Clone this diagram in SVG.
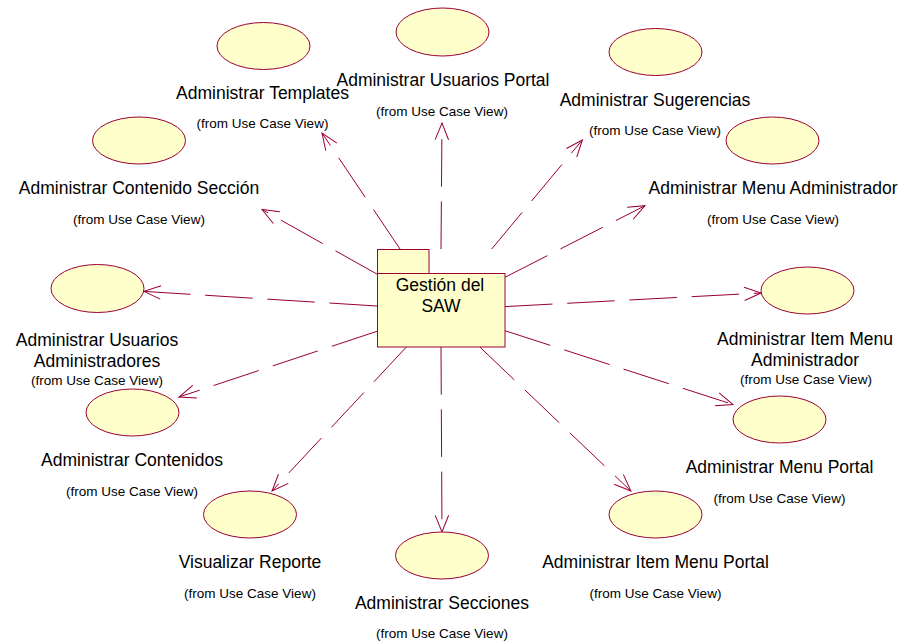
<svg xmlns="http://www.w3.org/2000/svg" width="899" height="643" viewBox="0 0 899 643">
  <style>
    .uc { fill: #FFFFCC; stroke: #990033; stroke-width: 1; }
    .pkg { fill: #FFFFCC; stroke: #990033; stroke-width: 1; }
    .name { font-family: "Liberation Sans", Arial, sans-serif; font-size: 17.5px; fill: #000; text-anchor: middle; }
    .from { font-family: "Liberation Sans", Arial, sans-serif; font-size: 13.5px; fill: #000; text-anchor: middle; }
    .dep { fill: none; stroke: #990033; stroke-width: 1; stroke-dasharray: 47.6 14.7; marker-end: url(#open); }
  </style>
  <defs>
    <marker id="open" markerUnits="userSpaceOnUse" markerWidth="20" markerHeight="16" viewBox="-18 -8 20 16" refX="0" refY="0" orient="auto" overflow="visible">
      <path d="M-16.7,-6.7 L0,0 L-16.7,6.7" fill="none" stroke="#990033" stroke-width="1"/>
    </marker>
  </defs>

  <rect width="899" height="643" fill="#FFFFFF"/>

  <!-- dependencies from the package to each use case -->
  <g id="connectors">
    <path class="dep" d="M400,249 L322,133"/>
    <path class="dep" d="M441,249 L442,123"/>
    <path class="dep" d="M491.7,249 L582.3,140"/>
    <path class="dep" d="M505,277.3 L645,205.7"/>
    <path class="dep" d="M377,274.1 L262,209.5"/>
    <path class="dep" d="M377,306 L144,291.4"/>
    <path class="dep" d="M377,331.3 L179,397"/>
    <path class="dep" d="M406.4,347 L272,491"/>
    <path class="dep" d="M441,347 L442,532"/>
    <path class="dep" d="M479.8,347 L630.9,491"/>
    <path class="dep" d="M505,330.7 L733,404.5"/>
    <path class="dep" d="M505,306.6 L761,293"/>
  </g>

  <!-- package -->
  <g id="gestion-saw">
    <rect class="pkg" x="377.5" y="249.5" width="51.5" height="24"/>
    <rect class="pkg" x="377.5" y="273.5" width="127.5" height="73.5"/>
    <text class="name" x="440" y="291">Gestión del</text>
    <text class="name" x="441" y="312">SAW</text>
  </g>

  <g id="administrar-templates">
    <ellipse class="uc" cx="263.5" cy="46" rx="46.5" ry="23.5"/>
    <text class="name" x="262.5" y="98.5">Administrar Templates</text>
    <text class="from" x="262.5" y="128">(from Use Case View)</text>
  </g>

  <g id="administrar-usuarios-portal">
    <ellipse class="uc" cx="442.5" cy="32" rx="46.5" ry="24"/>
    <text class="name" x="443" y="85.5">Administrar Usuarios Portal</text>
    <text class="from" x="442" y="115.5">(from Use Case View)</text>
  </g>

  <g id="administrar-sugerencias">
    <ellipse class="uc" cx="655.5" cy="52" rx="46.5" ry="23.5"/>
    <text class="name" x="655" y="105.5">Administrar Sugerencias</text>
    <text class="from" x="655" y="134.5">(from Use Case View)</text>
  </g>

  <g id="administrar-menu-administrador">
    <ellipse class="uc" cx="772.5" cy="140.5" rx="46.5" ry="23.5"/>
    <text class="name" x="773" y="194">Administrar Menu Administrador</text>
    <text class="from" x="773" y="223.5">(from Use Case View)</text>
  </g>

  <g id="administrar-contenido-seccion">
    <ellipse class="uc" cx="139" cy="140.5" rx="46.5" ry="23.5"/>
    <text class="name" x="139" y="194">Administrar Contenido Sección</text>
    <text class="from" x="139" y="223.5">(from Use Case View)</text>
  </g>

  <g id="administrar-usuarios-administradores">
    <ellipse class="uc" cx="97.5" cy="288.5" rx="46.5" ry="24"/>
    <text class="name" x="97" y="346">Administrar Usuarios</text>
    <text class="name" x="97" y="366.5">Administradores</text>
    <text class="from" x="97" y="384.5">(from Use Case View)</text>
  </g>

  <g id="administrar-contenidos">
    <ellipse class="uc" cx="132.5" cy="412.5" rx="46.5" ry="23.5"/>
    <text class="name" x="132" y="466">Administrar Contenidos</text>
    <text class="from" x="132" y="495.5">(from Use Case View)</text>
  </g>

  <g id="visualizar-reporte">
    <ellipse class="uc" cx="250" cy="514.5" rx="46.5" ry="23.5"/>
    <text class="name" x="250" y="568">Visualizar Reporte</text>
    <text class="from" x="250" y="597.5">(from Use Case View)</text>
  </g>

  <g id="administrar-secciones">
    <ellipse class="uc" cx="442" cy="555.5" rx="46.5" ry="23.5"/>
    <text class="name" x="442" y="609">Administrar Secciones</text>
    <text class="from" x="442" y="638">(from Use Case View)</text>
  </g>

  <g id="administrar-item-menu-portal">
    <ellipse class="uc" cx="655.5" cy="514.5" rx="46.5" ry="23.5"/>
    <text class="name" x="655.5" y="568">Administrar Item Menu Portal</text>
    <text class="from" x="655.5" y="597.5">(from Use Case View)</text>
  </g>

  <g id="administrar-menu-portal">
    <ellipse class="uc" cx="779.5" cy="419.5" rx="46.5" ry="23.5"/>
    <text class="name" x="779.5" y="473">Administrar Menu Portal</text>
    <text class="from" x="779.5" y="502.5">(from Use Case View)</text>
  </g>

  <g id="administrar-item-menu-administrador">
    <ellipse class="uc" cx="807.5" cy="290.5" rx="46.5" ry="23.5"/>
    <text class="name" x="805" y="345">Administrar Item Menu</text>
    <text class="name" x="805" y="366">Administrador</text>
    <text class="from" x="806" y="384">(from Use Case View)</text>
  </g>
</svg>
